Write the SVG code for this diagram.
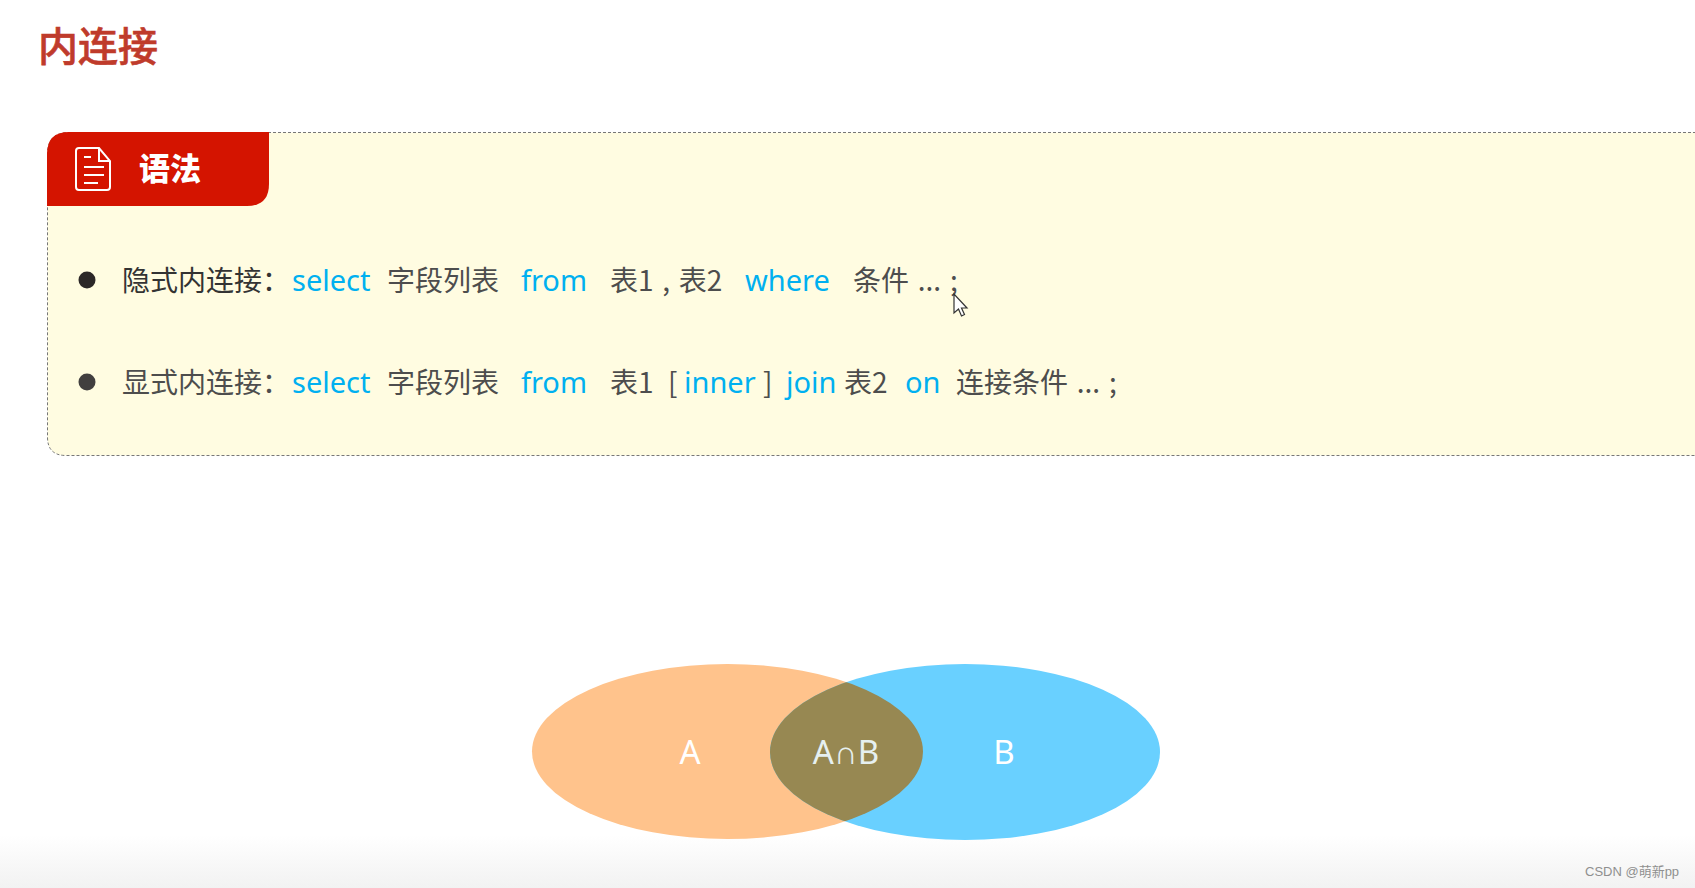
<svg xmlns="http://www.w3.org/2000/svg" width="1695" height="888" viewBox="0 0 1695 888">
<style>
text{font-family:"Noto Sans CJK SC","Noto Sans",sans-serif}
.t{font-size:28px;fill:#4d4d4d;word-spacing:2.500px}
.d{font-size:28px;fill:#333}
.k{font-size:29px;fill:#00b0f0;font-family:"Noto Sans","Noto Sans CJK SC",sans-serif}
.v{font-size:33px;fill:#fff;text-anchor:middle;font-family:"Noto Sans",sans-serif}
</style>
<defs>
<linearGradient id="fade" x1="0" y1="0" x2="0" y2="1"><stop offset="0" stop-color="#fff"/><stop offset="1" stop-color="#f2f2f2"/></linearGradient>
<clipPath id="clipA"><ellipse cx="727.5" cy="751.5" rx="195.5" ry="87.5"/></clipPath>
</defs>
<rect width="1695" height="888" fill="#fff"/>
<rect x="0" y="835" width="1695" height="53" fill="url(#fade)"/>
<text id="title" x="38" y="61" font-size="40" font-weight="500" fill="#bf3b2b" stroke="#bf3b2b" stroke-width="0.600">内连接</text>
<g id="syntax-panel">
<path d="M1696 132.500H69Q47.500 132.500 47.500 154V437Q47.500 455.500 66 455.500H1696" fill="#fffce1" stroke="#777" stroke-width="1" stroke-dasharray="3 2"/>
<path d="M69 132H269V184Q269 206 247 206H47V154Q47 132 69 132Z" fill="#d41400"/>
<g fill="none" stroke="#fff" stroke-width="2">
<path d="M79 148H99L110 161V187Q110 190 107 190H79Q76 190 76 187V151Q76 148 79 148Z"/>
<path d="M99 148V161H110"/>
<path d="M84 157H91M84 167H104M84 175H104M84 183H98"/>
</g>
<text x="139" y="180" font-size="31" font-weight="900" fill="#fff">语法</text>
</g>
<g id="line-implicit">
<circle cx="87" cy="280" r="8.500" fill="#2b2727"/>
<text class="d" x="122" y="291">隐式内连接：</text>
<text class="k" x="292" y="291">select</text>
<text class="t" x="387" y="291">字段列表</text>
<text class="k" x="521" y="291">from</text>
<text class="t" x="610" y="291">表1 , 表2</text>
<text class="k" x="745" y="291">where</text>
<text class="t" x="853" y="291">条件 ... ;</text>
<path d="M954 294V313L958.500 309L961.500 316L964.500 314.500L961.500 308H967Z" fill="#fff" stroke="#333" stroke-width="1.200"/>
</g>
<g id="line-explicit">
<circle cx="87" cy="382" r="8.500" fill="#413f3f"/>
<text class="t" x="122" y="393">显式内连接：</text>
<text class="k" x="292" y="393">select</text>
<text class="t" x="387" y="393">字段列表</text>
<text class="k" x="521" y="393">from</text>
<text class="t" x="610" y="393">表1</text>
<text class="t" x="668" y="393">[</text>
<text class="k" x="684" y="393">inner</text>
<text class="t" x="763" y="393">]</text>
<text class="k" x="786" y="393">join</text>
<text class="t" x="844" y="393">表2</text>
<text class="k" x="905" y="393">on</text>
<text class="t" x="956" y="393">连接条件 ... ;</text>
</g>
<g id="venn">
<ellipse id="set-a" cx="727.500" cy="751.500" rx="195.500" ry="87.500" fill="#ffc38c"/>
<ellipse id="set-b" cx="965" cy="752" rx="195" ry="88" fill="#69d0ff"/>
<ellipse id="set-ab" cx="965" cy="752" rx="195" ry="88" fill="#978852" clip-path="url(#clipA)"/>
<text class="v" x="690" y="764">A</text>
<text class="v" x="846" y="764" style="fill:#e6f0f0">A∩B</text>
<text class="v" x="1004" y="764">B</text>
</g>
<text id="watermark" x="1585" y="876" font-size="13" fill="#8f8f8f" style="font-family:'Liberation Sans','Noto Sans CJK SC',sans-serif">CSDN @萌新pp</text>
</svg>
